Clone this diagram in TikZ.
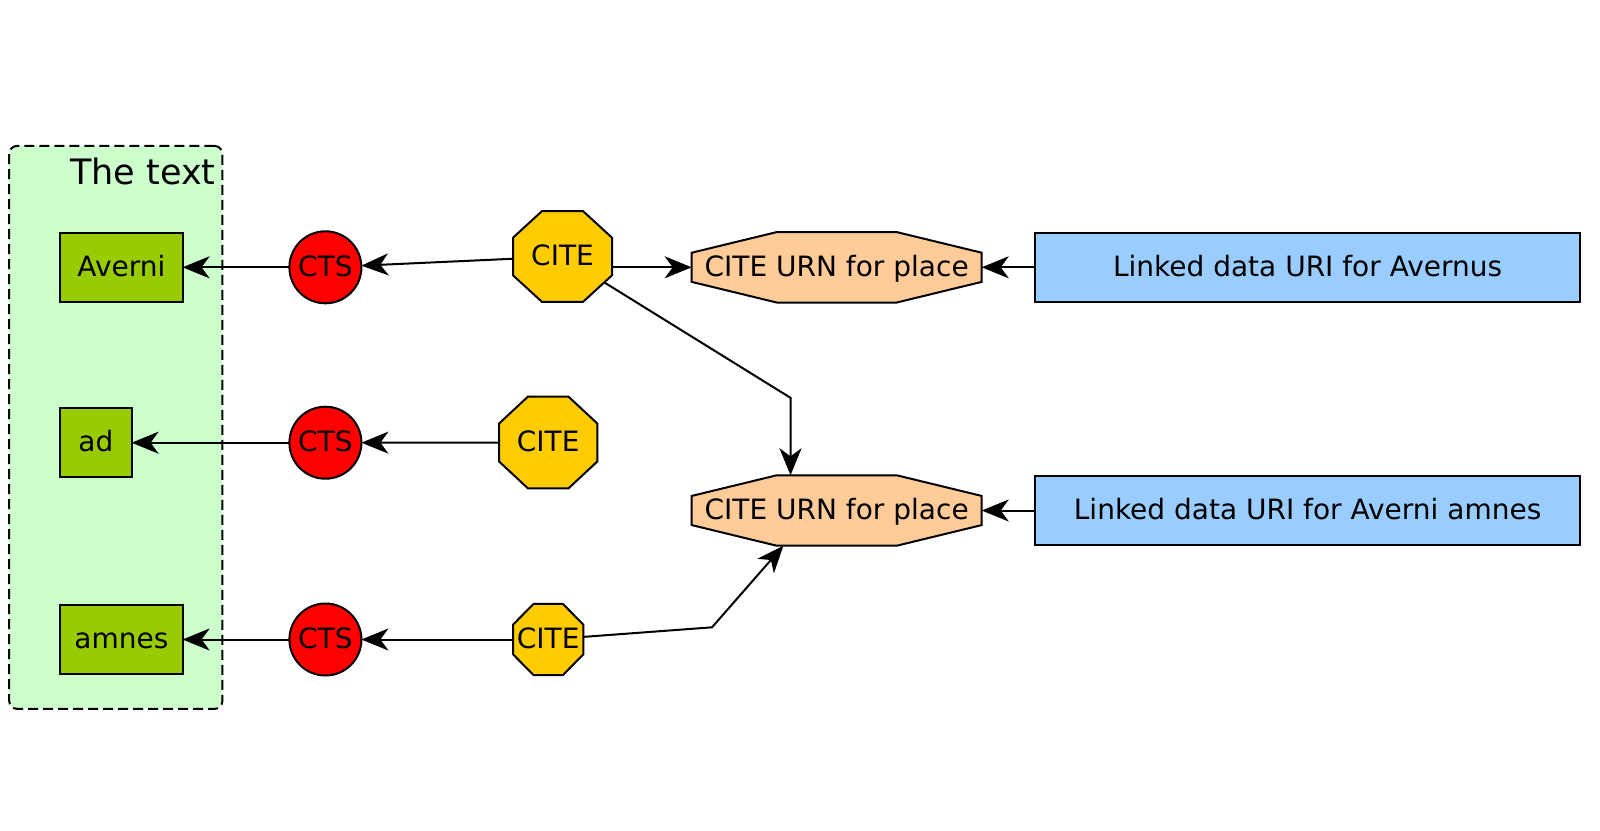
\documentclass[tikz,border=0pt]{standalone}
\usepackage{fontspec}
\setmainfont{DejaVu Sans}
\usetikzlibrary{shapes.geometric,arrows.meta}
\definecolor{clusterfill}{HTML}{CCFFCC}
\definecolor{wordfill}{HTML}{99CC00}
\definecolor{ctsfill}{HTML}{FF0000}
\definecolor{citefill}{HTML}{FFCC00}
\definecolor{urnfill}{HTML}{FFCC99}
\definecolor{ldfill}{HTML}{99CCFF}
\begin{document}
\begin{tikzpicture}[x=1pt,y=-1pt,
  every node/.style={font=\fontsize{28}{34}\selectfont, inner sep=0pt, outer sep=0pt, line width=2pt, text height=17.4pt, text depth=0pt},
  wordbox/.style={draw, rectangle, fill=wordfill, minimum height=69.3pt},
  ctsnode/.style={draw, circle, fill=ctsfill, minimum size=72pt},
  octo/.style={draw, regular polygon, regular polygon sides=8, minimum size=100pt, text height=0pt, transform shape},
  citenode/.style={octo, fill=citefill},
  urnnode/.style={octo, fill=urnfill, xscale=3.139, yscale=0.762},
  ldnode/.style={draw, rectangle, fill=ldfill, minimum width=544.7pt, minimum height=69.3pt},
  arr/.style={line width=2pt, -{Stealth[length=27pt, width=22pt, inset=8pt]}},
]
\useasboundingbox (0,0) rectangle (1600,830);
\node[draw, dash pattern=on 10pt off 5pt, rounded corners=8pt, fill=clusterfill, minimum width=213.2pt, minimum height=563pt, anchor=north west] (cluster) at (9.2,145.9) {};
\node[font=\fontsize{35}{40}\selectfont, anchor=base east] (clabel) at (215.5,184) {The text};

\node[wordbox, minimum width=122.4pt] (averni) at (121.4,267.3) {Averni};
\node[wordbox, minimum width=71.4pt] (ad) at (95.9,442.7) {ad};
\node[wordbox, minimum width=122.4pt] (amnes) at (121.4,639.5) {amnes};

\node[ctsnode] (cts1) at (325.4,267.3) {CTS};
\node[ctsnode] (cts2) at (325.4,442.7) {CTS};
\node[ctsnode] (cts3) at (325.4,639.5) {CTS};

\begin{scope}[shift={(562.5,256.5)}]
  \node[citenode, xscale=1.0716, yscale=0.9828] (cite1) at (0,0) {};
\end{scope}
\begin{scope}[shift={(548.2,442.5)}]
  \node[citenode, xscale=1.064, yscale=0.991] (cite2) at (0,0) {};
\end{scope}
\begin{scope}[shift={(548.2,639.5)}]
  \node[citenode, xscale=0.762, yscale=0.773] (cite3) at (0,0) {};
\end{scope}
\begin{scope}[shift={(836.7,267.3)}]
  \node[urnnode] (urn1) at (0,0) {};
\end{scope}
\begin{scope}[shift={(836.7,510.5)}]
  \node[urnnode] (urn2) at (0,0) {};
\end{scope}
\node (cite1t) at (cite1.center) {CITE};
\node (cite2t) at (cite2.center) {CITE};
\node (cite3t) at (cite3.center) {CITE};
\node (urn1t) at (urn1.center) {CITE URN for place};
\node (urn2t) at (urn2.center) {CITE URN for place};

\node[ldnode] (ld1) at (1307.6,267.3) {Linked data URI for Avernus};
\node[ldnode] (ld2) at (1307.6,510.5) {Linked data URI for Averni amnes};

\coordinate (bendA) at (790.5,397.8);
\coordinate (bendB) at (712,627.3);

\draw[arr] (cts1) -- (averni);
\draw[arr] (cite1) -- (cts1);
\draw[arr] (cite1.east |- urn1.west) -- (urn1.west);
\draw[arr] (cite1) -- (bendA) -- (bendA |- urn2.north);
\draw[arr] (cts2) -- (ad);
\draw[arr] (cite2) -- (cts2);
\draw[arr] (cts3) -- (amnes);
\draw[arr] (cite3) -- (cts3);
\draw[arr] (cite3) -- (bendB) -- ([xshift=-53.3pt]urn2.south);
\draw[arr] (ld1) -- (urn1);
\draw[arr] (ld2) -- (urn2);
\end{tikzpicture}
\end{document}
